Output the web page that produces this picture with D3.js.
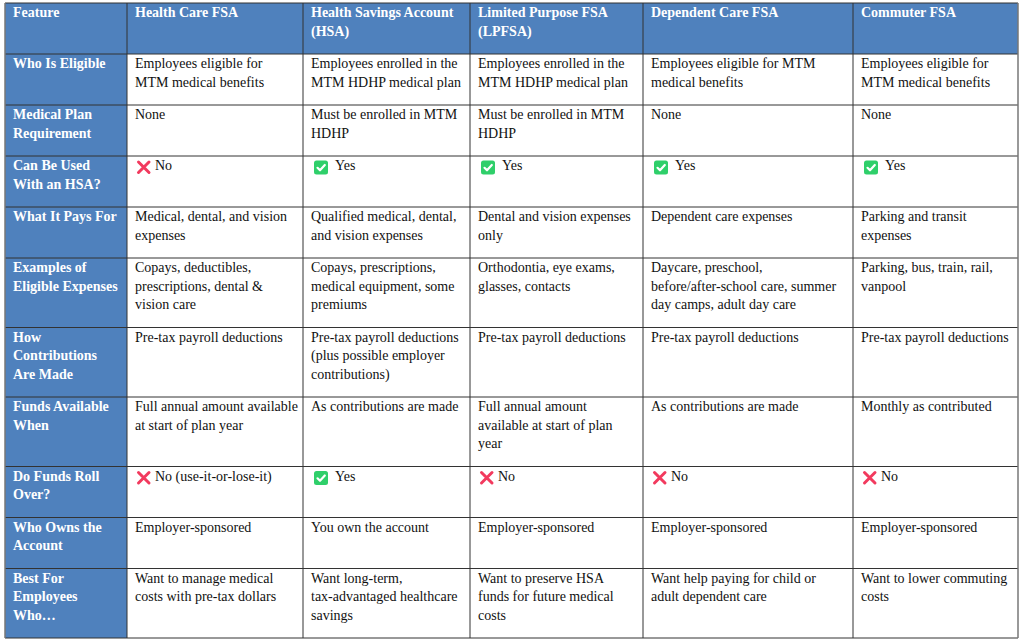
<!DOCTYPE html>
<html lang="en">
<head>
<meta charset="UTF-8">
<script src="https://d3js.org/d3.v7.min.js"></script>
<title>FSA / HSA comparison</title>
<style>
  body { margin: 0; background: #fff; }
  svg text { font-family: "Times New Roman", "Liberation Serif", serif; font-size: 14px; }
</style>
</head>
<body>
<svg class="table"></svg>

<script>
// "|" splits lines, a leading [x] or [v] means a red cross / green check icon
let headers = ["Feature", "Health Care FSA", "Health Savings Account|(HSA)", "Limited Purpose FSA|(LPFSA)", "Dependent Care FSA", "Commuter FSA"];

let features = [
    "Who Is Eligible",
    "Medical Plan|Requirement",
    "Can Be Used|With an HSA?",
    "What It Pays For",
    "Examples of|Eligible Expenses",
    "How|Contributions|Are Made",
    "Funds Available|When",
    "Do Funds Roll|Over?",
    "Who Owns the|Account",
    "Best For|Employees|Who…"
];

let healthCareFSA = [
    "Employees eligible for|MTM medical benefits",
    "None",
    "[x]No",
    "Medical, dental, and vision|expenses",
    "Copays, deductibles,|prescriptions, dental &|vision care",
    "Pre-tax payroll deductions",
    "Full annual amount available|at start of plan year",
    "[x]No (use-it-or-lose-it)",
    "Employer-sponsored",
    "Want to manage medical|costs with pre-tax dollars"
];

let hsa = [
    "Employees enrolled in the|MTM HDHP medical plan",
    "Must be enrolled in MTM|HDHP",
    "[v]Yes",
    "Qualified medical, dental,|and vision expenses",
    "Copays, prescriptions,|medical equipment, some|premiums",
    "Pre-tax payroll deductions|(plus possible employer|contributions)",
    "As contributions are made",
    "[v]Yes",
    "You own the account",
    "Want long-term,|tax-advantaged healthcare|savings"
];

let lpfsa = [
    "Employees enrolled in the|MTM HDHP medical plan",
    "Must be enrolled in MTM|HDHP",
    "[v]Yes",
    "Dental and vision expenses|only",
    "Orthodontia, eye exams,|glasses, contacts",
    "Pre-tax payroll deductions",
    "Full annual amount|available at start of plan|year",
    "[x]No",
    "Employer-sponsored",
    "Want to preserve HSA|funds for future medical|costs"
];

let dependentCareFSA = [
    "Employees eligible for MTM|medical benefits",
    "None",
    "[v]Yes",
    "Dependent care expenses",
    "Daycare, preschool,|before/after-school care, summer|day camps, adult day care",
    "Pre-tax payroll deductions",
    "As contributions are made",
    "[x]No",
    "Employer-sponsored",
    "Want help paying for child or|adult dependent care"
];

let commuterFSA = [
    "Employees eligible for|MTM medical benefits",
    "None",
    "[v]Yes",
    "Parking and transit|expenses",
    "Parking, bus, train, rail,|vanpool",
    "Pre-tax payroll deductions",
    "Monthly as contributed",
    "[x]No",
    "Employer-sponsored",
    "Want to lower commuting|costs"
];

let columns = [features, healthCareFSA, hsa, lpfsa, dependentCareFSA, commuterFSA];

// layout
let width = 1024, height = 642;
let tableLeft = 5, tableTop = 3;
let colWidths = [122, 176, 167, 173, 210, 165];
let lineH = 18.5, padX = 8, baseY = 14;
let blue = "#4f81bd";

let colX = [tableLeft].concat(Array.from(d3.cumsum(colWidths), function (d) { return tableLeft + d; }));

// rows = header + each feature, height from the tallest cell
let rows = [headers].concat(features.map(function (f, i) {
    return columns.map(function (c) { return c[i]; });
}));
let rowHeights = rows.map(function (r) {
    return 14 + lineH * d3.max(r, function (c) { return c.split("|").length; });
});
let rowY = [tableTop].concat(Array.from(d3.cumsum(rowHeights), function (d) { return tableTop + d; }));

let svg = d3.select(".table").attr("width", width).attr("height", height);

let cells = [];
rows.forEach(function (r, ri) {
    r.forEach(function (c, ci) {
        cells.push({ row: ri, col: ci, text: c });
    });
});

let g = svg.selectAll("g.cell")
    .data(cells)
    .enter()
    .append("g")
    .attr("class", "cell")
    .attr("transform", function (d) { return "translate(" + colX[d.col] + "," + rowY[d.row] + ")"; });

g.append("rect")
    .attr("width", function (d) { return colWidths[d.col]; })
    .attr("height", function (d) { return rowHeights[d.row]; })
    .style("fill", function (d) { return (d.row === 0 || d.col === 0) ? blue : "#fff"; });

g.each(function (d) {
    let cell = d3.select(this);
    let text = d.text;
    let icon = null;
    if (text.startsWith("[x]") || text.startsWith("[v]")) {
        icon = text.slice(1, 2);
        text = text.slice(3);
    }
    let tx = padX;
    if (icon === "x") {
        let ic = cell.append("g").attr("transform", "translate(" + (padX + 2) + ",4.5)");
        ic.append("path")
            .attr("d", "M1.5,1.5 L12,12 M12,1.5 L1.5,12")
            .style("stroke", "#f23a5e").style("stroke-width", 3).style("stroke-linecap", "round");
        tx = padX + 20;
    } else if (icon === "v") {
        let ic = cell.append("g").attr("transform", "translate(" + (padX + 3) + ",4.5)");
        ic.append("rect")
            .attr("width", 14).attr("height", 14).attr("rx", 2.5)
            .style("fill", "#2fcf6a");
        ic.append("path")
            .attr("d", "M3.5,7.3 L6,9.8 L10.8,4.5")
            .style("fill", "none").style("stroke", "#fff").style("stroke-width", 2.2)
            .style("stroke-linecap", "round").style("stroke-linejoin", "round");
        tx = padX + 24;
    }
    let bold = d.row === 0 || d.col === 0;
    cell.selectAll("text.line")
        .data(text.split("|"))
        .enter()
        .append("text")
        .attr("class", "line")
        .attr("x", tx)
        .attr("y", function (l, i) { return baseY + i * lineH; })
        .style("fill", bold ? "#fff" : "#111")
        .style("font-weight", bold ? "bold" : "normal")
        .text(function (l) { return l; });
});

// grid lines
svg.selectAll("line.h")
    .data(rowY)
    .enter()
    .append("line")
    .attr("class", "h")
    .attr("x1", tableLeft).attr("x2", colX[colX.length - 1])
    .attr("y1", function (d) { return d; }).attr("y2", function (d) { return d; })
    .style("stroke", "#333").style("stroke-width", 1);

svg.selectAll("line.v")
    .data(colX)
    .enter()
    .append("line")
    .attr("class", "v")
    .attr("x1", function (d) { return d; }).attr("x2", function (d) { return d; })
    .attr("y1", tableTop).attr("y2", rowY[rowY.length - 1])
    .style("stroke", function (d, i) { return (i === 0 || i === colX.length - 1) ? "#777" : "#333"; })
    .style("stroke-width", function (d, i) { return (i === 0 || i === colX.length - 1) ? 1.5 : 1; });
</script>
</body>
</html>
